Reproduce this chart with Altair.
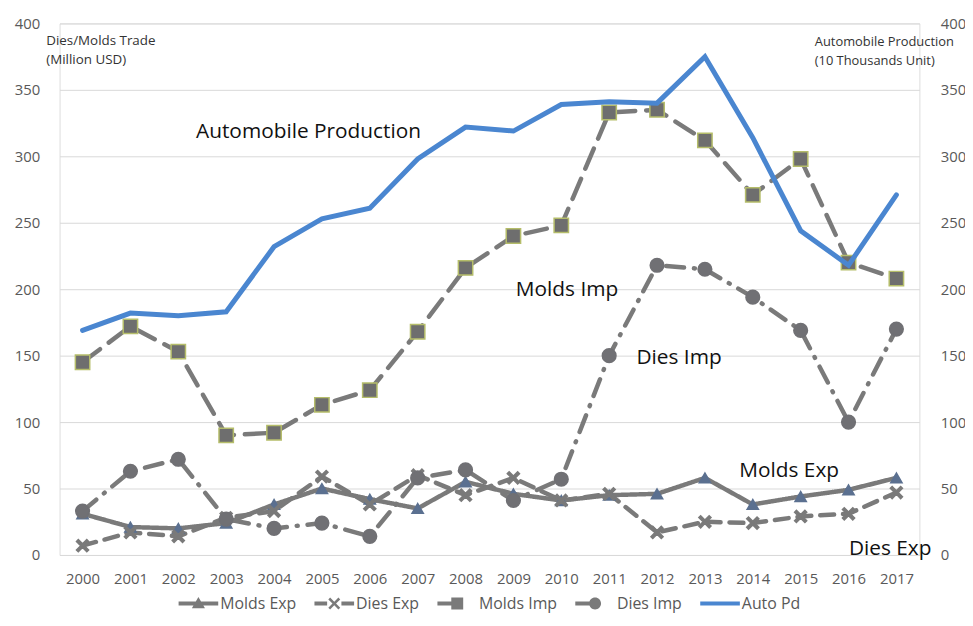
import altair as alt
import pandas as pd

years = list(range(2000, 2018))
molds_exp = [31, 21, 20, 24, 38, 50, 42, 35, 55, 46, 41, 45, 46, 58, 38, 44, 49, 58]
dies_exp = [7, 17, 14, 28, 33, 59, 38, 60, 45, 58, 41, 46, 17, 25, 24, 29, 31, 47]
molds_imp = [145, 172, 153, 90, 92, 113, 124, 168, 216, 240, 248, 333, 335, 312, 271, 298, 220, 208]
dies_imp = [33, 63, 72, 27, 20, 24, 14, 58, 64, 41, 57, 150, 218, 215, 194, 169, 100, 170]
auto_pd = [169, 182, 180, 183, 232, 253, 261, 298, 322, 319, 339, 341, 340, 375, 314, 244, 218, 271]

series_names = ["Molds Exp", "Dies Exp", "Molds Imp", "Dies Imp", "Auto Pd"]
gray_series = series_names[:4]
GRAY = "#7a7a7a"
BLUE = "#4a86d0"
legend_colors = [GRAY, GRAY, GRAY, GRAY, BLUE]
dash_patterns = [[1, 0], [14, 9], [22, 11], [18, 10, 1, 10]]

x_shape = "M-1,-0.7 L-0.7,-1 L0,-0.3 L0.7,-1 L1,-0.7 L0.3,0 L1,0.7 L0.7,1 L0,0.3 L-0.7,1 L-1,0.7 L-0.3,0 Z"
marker_styles = [
    {"series": "Molds Exp", "shape": "triangle-up", "fill": "#5b7090", "stroke": "#5b7090", "size": 130},
    {"series": "Dies Exp", "shape": x_shape, "fill": "#7a7a7a", "stroke": "#7a7a7a", "size": 150},
    {"series": "Molds Imp", "shape": "square", "fill": "#6e6e6e", "stroke": "#b5bd6a", "size": 210},
    {"series": "Dies Imp", "shape": "circle", "fill": "#707074", "stroke": "#707074", "size": 190},
]

# legend symbols: short line segment with the marker on it
bar_full = "M-3.33,-0.33 L3.33,-0.33 L3.33,0.33 L-3.33,0.33 Z"
legend_shapes = [
    bar_full + " M0,-1.1 L1.1,0.8 L-1.1,0.8 Z",
    "M-3.33,-0.33 L-1.2,-0.33 L-1.2,0.33 L-3.33,0.33 Z M1.2,-0.33 L3.33,-0.33 L3.33,0.33 L1.2,0.33 Z "
    + x_shape,
    "M-3.33,-0.33 L0,-0.33 L0,0.33 L-3.33,0.33 Z M-1,-1 L1,-1 L1,1 L-1,1 Z",
    "M-3.33,-0.33 L0,-0.33 L0,0.33 L-3.33,0.33 Z M-1,0 A1,1 0 1,1 1,0 A1,1 0 1,1 -1,0 Z",
    bar_full,
]

ann_text = ["Automobile Production", "Molds Imp", "Dies Imp", "Molds Exp", "Dies Exp"]
ann_year = [2004.72, 2010.12, 2012.46, 2014.76, 2016.87]
ann_value = [318, 199, 148.5, 63, 4.5]

rows = []
for name, vals in zip(gray_series, [molds_exp, dies_exp, molds_imp, dies_imp]):
    for y, v in zip(years, vals):
        rows.append({"year": y, "series": name, "value": v})
gray_df = pd.DataFrame(rows)
auto_df = pd.DataFrame({"year": years, "series": "Auto Pd", "value": auto_pd})
ann_df = pd.DataFrame({"label": ann_text, "year": ann_year, "value": ann_value})
legend_df = pd.DataFrame({"series": series_names})

FONT = "Open Sans"
TICK_COLOR = "#595959"
TICK_SIZE = 15

x_enc = alt.X(
    "year:Q",
    scale=alt.Scale(domain=[1999.52, 2017.48], nice=False, zero=False),
    axis=alt.Axis(values=years, format="d", title=None, grid=False, ticks=False,
                  domain=False, labelFontSize=TICK_SIZE, labelColor=TICK_COLOR,
                  labelPadding=17, labelFont=FONT),
)
y_scale = alt.Scale(domain=[0, 400], nice=False)
y_vals = [0, 50, 100, 150, 200, 250, 300, 350, 400]
y_left = alt.Y(
    "value:Q", scale=y_scale,
    axis=alt.Axis(values=y_vals, ticks=False, domain=False,
                  gridColor="#d9d9d9", gridWidth=1, labelFontSize=TICK_SIZE, labelColor=TICK_COLOR,
                  labelPadding=20, labelFont=FONT,
                  title=["Dies/Molds Trade", "(Million USD)"], titleAngle=0,
                  titleAlign="left", titleBaseline="middle", titleX=-14, titleY=17,
                  titleFontSize=13.5, titleFontWeight="normal", titleColor="#333333",
                  titleFont=FONT, titleLineHeight=19),
)
y_right = alt.Y(
    "value:Q", scale=y_scale,
    axis=alt.Axis(orient="right", values=y_vals,
                  ticks=False, domain=False, grid=False, labelFontSize=TICK_SIZE,
                  labelColor=TICK_COLOR, labelPadding=21, labelFont=FONT,
                  title=["Automobile Production", "(10 Thousands Unit)"], titleAngle=0,
                  titleAlign="left", titleBaseline="middle", titleX=-106, titleY=18,
                  titleFontSize=13, titleFontWeight="normal", titleColor="#333333",
                  titleFont=FONT, titleLineHeight=19),
)

gray_lines = alt.Chart(gray_df).mark_line(strokeWidth=4.5, strokeCap="round", color=GRAY).encode(
    x=x_enc, y=y_left, detail="series:N",
    strokeDash=alt.StrokeDash("series:N",
                              scale=alt.Scale(domain=gray_series, range=dash_patterns),
                              legend=None),
)

point_layers = []
for st in marker_styles:
    point_layers.append(
        alt.Chart(gray_df).transform_filter(alt.datum.series == st["series"]).mark_point(
            filled=True, opacity=1, shape=st["shape"], fill=st["fill"], stroke=st["stroke"],
            strokeWidth=1.5, size=st["size"],
        ).encode(x=x_enc, y=y_left)
    )

annotations = alt.Chart(ann_df).mark_text(fontSize=21, color="#111111", font=FONT).encode(
    x=x_enc, y=y_left, text="label:N"
)

legend_cfg = dict(title=None, orient="none", direction="horizontal",
                  legendX=132, legendY=577, labelFontSize=16,
                  labelColor=TICK_COLOR, labelFont=FONT, symbolSize=144,
                  symbolStrokeWidth=0, columnPadding=18, labelOffset=14)
legend_layer = alt.Chart(legend_df).transform_filter("false").mark_point(
    filled=True, opacity=1, strokeWidth=0
).encode(
    color=alt.Color("series:N", scale=alt.Scale(domain=series_names, range=legend_colors),
                    legend=alt.Legend(**legend_cfg)),
    shape=alt.Shape("series:N", scale=alt.Scale(domain=series_names, range=legend_shapes),
                    legend=alt.Legend(**legend_cfg)),
)

left = alt.layer(gray_lines, *point_layers, annotations, legend_layer)

auto_line = alt.Chart(auto_df).mark_line(strokeWidth=5, strokeCap="round", color=BLUE).encode(
    x=x_enc, y=y_right
)

chart = alt.layer(left, auto_line).resolve_scale(y="independent").properties(
    width=867, height=536,
    autosize=alt.AutoSizeParams(type="none"),
    padding={"left": 52, "top": 13, "right": 46, "bottom": 60},
).configure_view(stroke=None).configure(background="white")

chart.save("out.html", embed_options={"renderer": "svg", "actions": False})
